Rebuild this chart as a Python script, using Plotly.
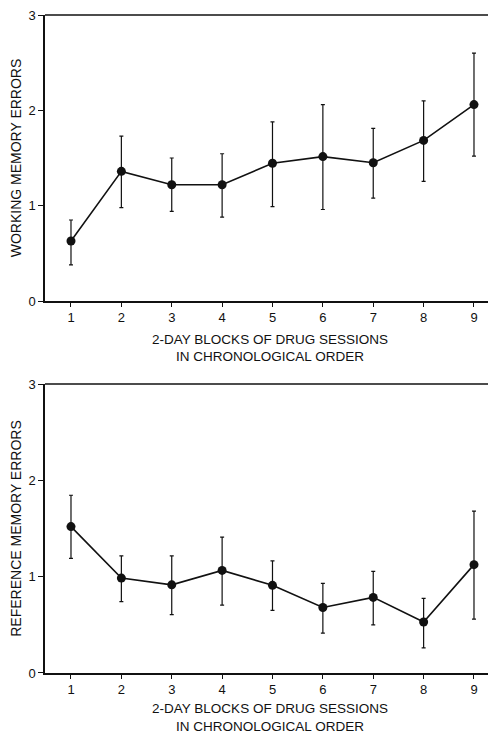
import plotly.graph_objects as go

blocks = [1, 2, 3, 4, 5, 6, 7, 8, 9]

wm_mean = [0.63, 1.36, 1.22, 1.22, 1.445, 1.515, 1.45, 1.685, 2.06]
wm_upper = [0.85, 1.73, 1.50, 1.545, 1.88, 2.06, 1.81, 2.10, 2.60]
wm_lower = [0.38, 0.98, 0.94, 0.88, 0.99, 0.96, 1.08, 1.255, 1.52]

rm_mean = [1.52, 0.985, 0.915, 1.065, 0.91, 0.68, 0.785, 0.53, 1.125]
rm_upper = [1.845, 1.215, 1.215, 1.41, 1.165, 0.93, 1.055, 0.775, 1.68]
rm_lower = [1.19, 0.74, 0.605, 0.705, 0.65, 0.415, 0.50, 0.26, 0.56]

y_ticks = [0, 1, 2, 3]
x_title = "2-DAY BLOCKS OF DRUG SESSIONS<br>IN CHRONOLOGICAL ORDER"
y_titles = ["WORKING MEMORY ERRORS", "REFERENCE MEMORY ERRORS"]

FAMILY = "Liberation Sans, Arial, Helvetica, sans-serif"
TICKFONT = dict(family=FAMILY, size=13, color="#111")
XTFONT = dict(family=FAMILY, size=13.5, color="#111")
YTFONT = dict(family=FAMILY, size=14, color="#111")

fig = go.Figure()


def add_series(mean, upper, lower, xa, ya):
    plus = [u - m for u, m in zip(upper, mean)]
    minus = [m - l for m, l in zip(mean, lower)]
    fig.add_trace(go.Scatter(
        x=blocks, y=mean, xaxis=xa, yaxis=ya,
        mode="lines+markers",
        line=dict(color="#111", width=1.6),
        marker=dict(symbol="circle", size=9, color="#111"),
        error_y=dict(type="data", symmetric=False, array=plus, arrayminus=minus,
                     color="#111", thickness=1.2, width=2),
        showlegend=False,
    ))


add_series(wm_mean, wm_upper, wm_lower, "x", "y")
add_series(rm_mean, rm_upper, rm_lower, "x2", "y2")

xaxis_common = dict(
    range=[0.484, 9.417], tickmode="array", tickvals=blocks,
    ticks="outside", ticklen=4, tickwidth=1, tickcolor="#111",
    showline=True, linecolor="#111", linewidth=1.5,
    showgrid=False, zeroline=False, tickfont=TICKFONT, automargin=False,
    ticklabeloverflow="allow",
    title=dict(text=x_title, font=XTFONT, standoff=10),
)
yaxis_common = dict(
    range=[0, 3], tickmode="array", tickvals=y_ticks,
    ticks="outside", ticklen=5, tickwidth=1, tickcolor="#111",
    showline=True, linecolor="#111", linewidth=1.5,
    showgrid=False, zeroline=False, tickfont=TICKFONT, automargin=False,
    ticklabeloverflow="allow",
)

# the page body adds an 8px margin, so the figure is 8px smaller on each side
fig.update_layout(
    width=488, height=726,
    margin=dict(l=37, r=1, t=7, b=61),
    paper_bgcolor="white", plot_bgcolor="white",
    font=dict(family=FAMILY, color="#111"),
    xaxis=dict(xaxis_common, anchor="y", domain=[0, 1]),
    yaxis=dict(yaxis_common, anchor="x", domain=[0.5653, 1],
               title=dict(text=y_titles[0], font=YTFONT, standoff=4)),
    xaxis2=dict(xaxis_common, anchor="y2", domain=[0, 1]),
    yaxis2=dict(yaxis_common, anchor="x2", domain=[0, 0.4392],
                title=dict(text=y_titles[1], font=YTFONT, standoff=4)),
)

for ya in ["y", "y2"]:
    fig.add_shape(type="line", xref=("x" if ya == "y" else "x2") + " domain",
                  yref=ya + " domain", x0=0, x1=1, y0=1, y1=1,
                  line=dict(color="#111", width=1.5))

fig.write_html("out.html")
